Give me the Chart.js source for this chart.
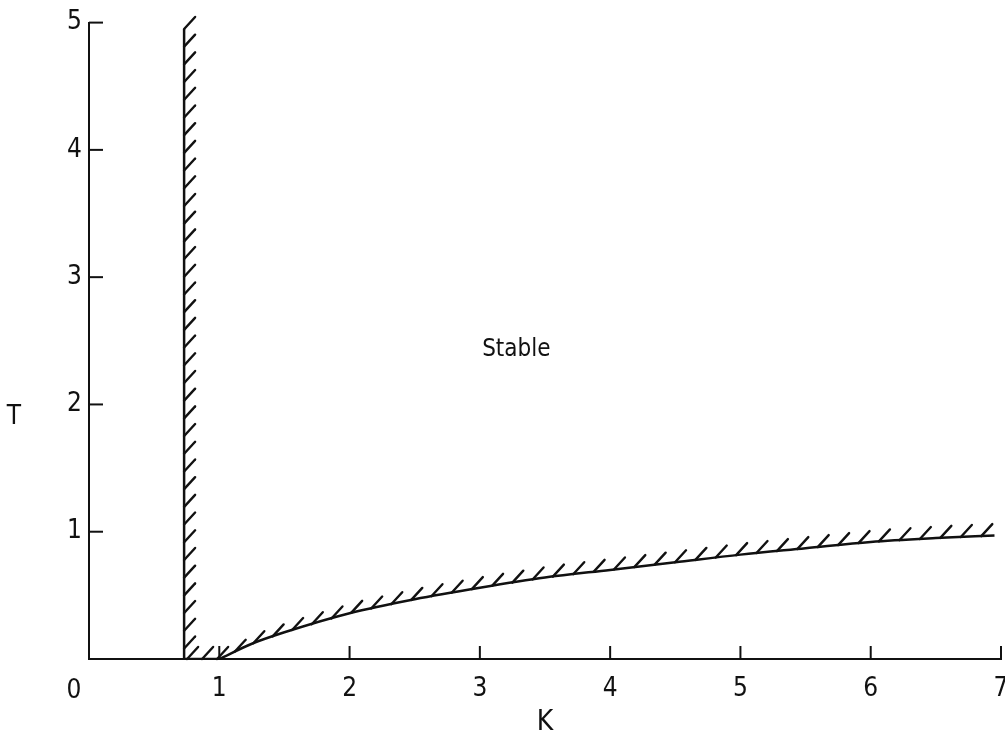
<!DOCTYPE html>
<html>
<head>
<meta charset="utf-8">
<script src="https://cdn.jsdelivr.net/npm/chart.js@4.4.0/dist/chart.umd.min.js"></script>
<style>
html, body { margin: 0; padding: 0; background: #fff; }
</style>
</head>
<body>
<canvas id="grafico" width="1005" height="742"></canvas>
<script>
// dados
const ticksK = [0, 1, 2, 3, 4, 5, 6, 7];
const ticksT = [0, 1, 2, 3, 4, 5];
const limiteK = [0.73, 0.73];
const limiteT = [4.95, 0];
const baseK = [0.73, 1];
const baseT = [0, 0];
const curvaK = [1, 1.25, 1.5, 2, 2.5, 3, 3.5, 4, 4.5, 5, 5.5, 6, 6.5, 6.95];
const curvaT = [0, 0.12, 0.21, 0.36, 0.47, 0.56, 0.64, 0.70, 0.76, 0.82, 0.87, 0.92, 0.95, 0.97];
const rotuloRegiao = 'Stable';
const rotuloX = 'K';
const rotuloY = 'T';

const fonte = "'DejaVu Sans Condensed', 'Liberation Sans Narrow', sans-serif";
const cor = '#111';

const pares = (xs, ys) => xs.map((x, i) => ({ x: x, y: ys[i] }));

// desenha as hachuras ao longo de cada linha
const hachuras = {
    id: 'hachuras',
    afterDatasetsDraw(chart) {
        const ctx = chart.ctx;
        ctx.save();
        ctx.strokeStyle = cor;
        ctx.lineWidth = 2.4;
        ctx.lineCap = 'round';
        chart.data.datasets.forEach((ds, i) => {
            const pts = chart.getDatasetMeta(i).data;
            let acumulado = 0;
            let proximo = ds.inicioHachura;
            for (let j = 1; j < pts.length; j++) {
                const a = pts[j - 1], b = pts[j];
                const seg = Math.hypot(b.x - a.x, b.y - a.y);
                while (proximo <= acumulado + seg) {
                    const t = (proximo - acumulado) / seg;
                    const px = a.x + (b.x - a.x) * t;
                    const py = a.y + (b.y - a.y) * t;
                    ctx.beginPath();
                    ctx.moveTo(px, py);
                    ctx.lineTo(px + 11, py - 12);
                    ctx.stroke();
                    proximo += ds.passoHachura;
                }
                acumulado += seg;
            }
        });
        ctx.restore();
    }
};

// marcas para dentro e textos soltos
const extras = {
    id: 'extras',
    afterDraw(chart) {
        const { ctx, scales: { x, y } } = chart;
        ctx.save();
        ctx.strokeStyle = cor;
        ctx.lineWidth = 2;
        ticksK.slice(1).forEach(v => {
            const px = x.getPixelForValue(v);
            ctx.beginPath();
            ctx.moveTo(px, y.bottom);
            ctx.lineTo(px, y.bottom - 13);
            ctx.stroke();
        });
        ticksT.slice(1).forEach(v => {
            const py = y.getPixelForValue(v);
            ctx.beginPath();
            ctx.moveTo(x.left, py);
            ctx.lineTo(x.left + 14, py);
            ctx.stroke();
        });
        ctx.fillStyle = cor;
        ctx.font = '26px ' + fonte;
        ctx.textAlign = 'center';
        ctx.textBaseline = 'middle';
        ctx.fillText(String(ticksK[0]), x.left - 15, y.bottom + 32);
        ctx.fillText(rotuloY, 14, y.getPixelForValue(1.9));
        ctx.font = '24px ' + fonte;
        ctx.fillText(rotuloRegiao, x.getPixelForValue(3.28), y.getPixelForValue(2.43));
        ctx.restore();
    }
};

const linha = {
    borderColor: cor,
    borderWidth: 2.5,
    pointRadius: 0,
    fill: false
};

new Chart(document.getElementById('grafico').getContext('2d'), {
    type: 'scatter',
    data: {
        datasets: [
            { ...linha, data: pares(limiteK, limiteT), showLine: true, passoHachura: 17.7, inicioHachura: 0 },
            { ...linha, data: pares(baseK, baseT), showLine: true, passoHachura: 15, inicioHachura: 3 },
            { ...linha, data: pares(curvaK, curvaT), showLine: true, cubicInterpolationMode: 'monotone', passoHachura: 20.5, inicioHachura: 17 }
        ]
    },
    options: {
        responsive: false,
        animation: false,
        devicePixelRatio: 1,
        layout: { padding: { top: 16, right: 4, left: 0, bottom: 0 } },
        plugins: { legend: { display: false }, tooltip: { enabled: false } },
        scales: {
            x: {
                type: 'linear',
                min: 0,
                max: 7,
                afterBuildTicks: s => { s.ticks = ticksK.map(v => ({ value: v })); },
                afterFit: s => { s.height = 83; s.paddingLeft = 0; s.paddingRight = 0; },
                grid: { display: false, drawTicks: false },
                border: { display: true, color: cor, width: 2 },
                ticks: {
                    color: cor,
                    padding: 15,
                    maxRotation: 0,
                    font: { family: fonte, size: 26 },
                    callback: v => (v === 0 ? '' : String(v))
                },
                title: {
                    display: true,
                    text: rotuloX,
                    color: cor,
                    font: { family: fonte, size: 28, lineHeight: 1.2 },
                    padding: { top: 0, bottom: 2 }
                }
            },
            y: {
                type: 'linear',
                min: 0,
                max: 5,
                afterBuildTicks: s => { s.ticks = ticksT.map(v => ({ value: v })); },
                afterFit: s => { s.width = 89; },
                grid: { display: false, drawTicks: false },
                border: { display: true, color: cor, width: 2 },
                ticks: {
                    color: cor,
                    padding: 7,
                    font: { family: fonte, size: 26 },
                    callback: v => (v === 0 ? '' : String(v))
                }
            }
        }
    },
    plugins: [hachuras, extras]
});
</script>
</body>
</html>
